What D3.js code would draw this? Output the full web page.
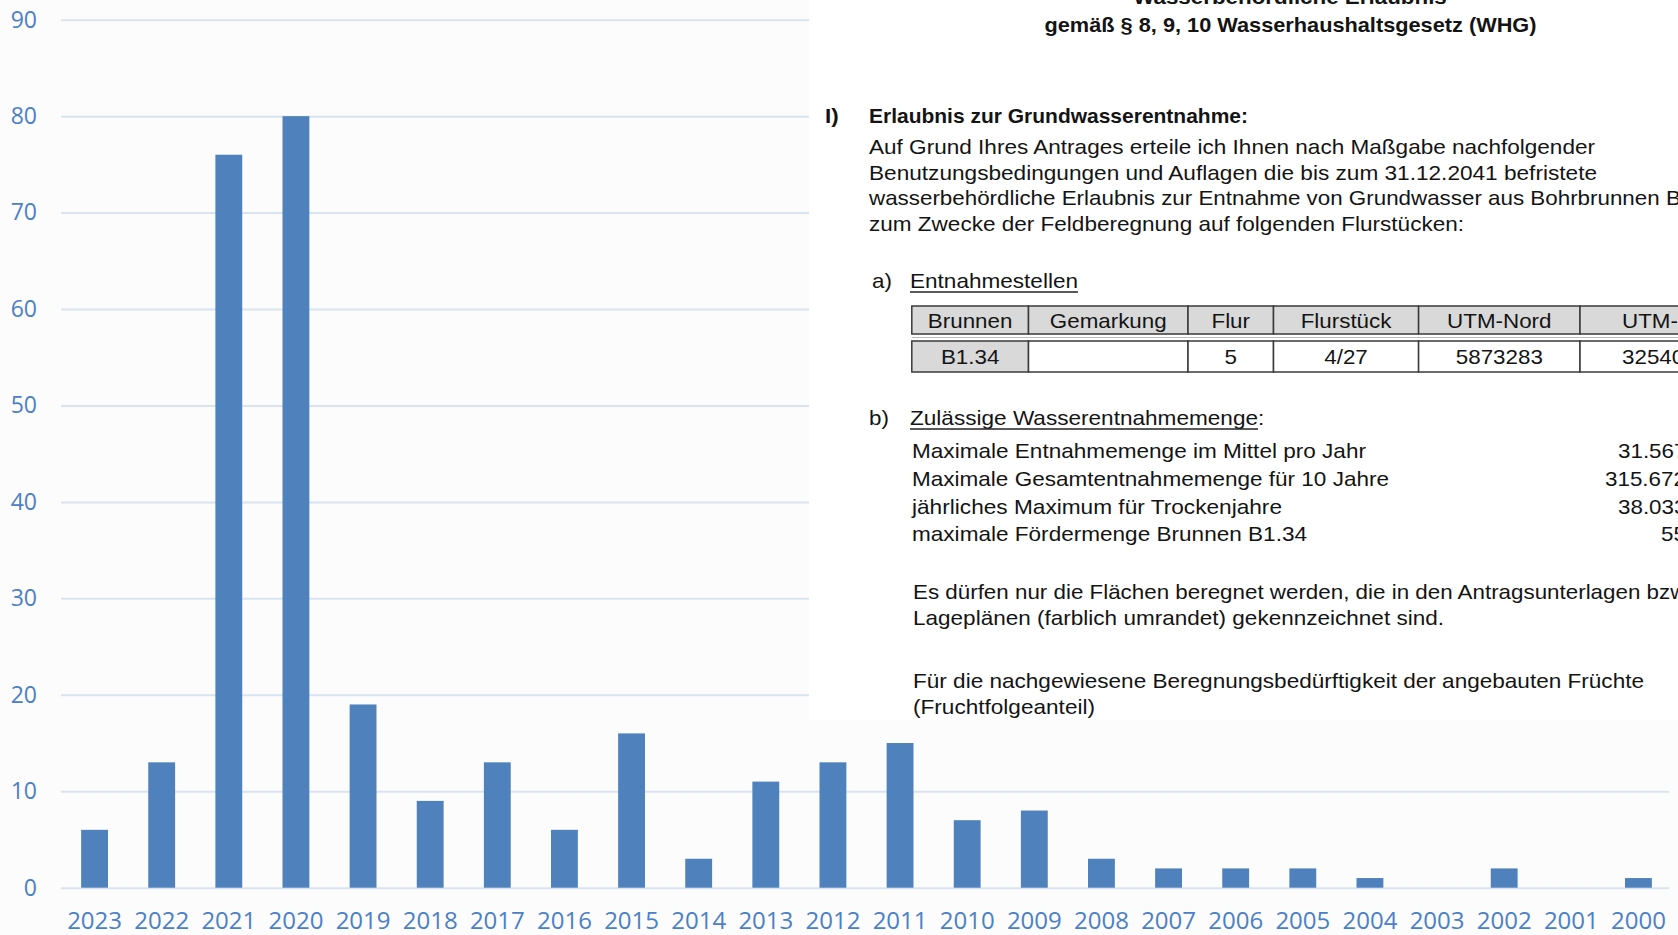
<!DOCTYPE html>
<html><head><meta charset="utf-8">
<script src="https://cdn.jsdelivr.net/npm/d3@7"></script>
<style>html,body{margin:0;padding:0;background:#fcfcfc;overflow:hidden}</style>
</head><body><svg id="c" width="1678" height="935"></svg>
<script>
// ---- chart data ----
const years = ["2023","2022","2021","2020","2019","2018","2017","2016","2015","2014","2013","2012",
               "2011","2010","2009","2008","2007","2006","2005","2004","2003","2002","2001","2000"];
const values = [6,13,76,80,19,9,13,6,16,3,11,13,15,7,8,3,2,2,2,1,0,2,0,1];
const yTicks = [0,10,20,30,40,50,60,70,80,90];

// ---- overlaid document text ----
const docTitle = ["Wasserbehördliche Erlaubnis", "gemäß § 8, 9, 10 Wasserhaushaltsgesetz (WHG)"];
const docHeading = ["I)", "Erlaubnis zur Grundwasserentnahme:"];
const docPara1 = ["Auf Grund Ihres Antrages erteile ich Ihnen nach Maßgabe nachfolgender",
  "Benutzungsbedingungen und Auflagen die bis zum 31.12.2041 befristete",
  "wasserbehördliche Erlaubnis zur Entnahme von Grundwasser aus Bohrbrunnen B1.34",
  "zum Zwecke der Feldberegnung auf folgenden Flurstücken:"];
const docSubA = ["a)", "Entnahmestellen"];
const tableHead = ["Brunnen","Gemarkung","Flur","Flurstück","UTM-Nord","UTM-Ost"];
const tableRow = ["B1.34","","5","4/27","5873283","32540"];
const docSubB = ["b)", "Zulässige Wasserentnahmemenge", ":"];
const amountLabels = ["Maximale Entnahmemenge im Mittel pro Jahr","Maximale Gesamtentnahmemenge für 10 Jahre",
  "jährliches Maximum für Trockenjahre","maximale Fördermenge Brunnen B1.34"];
const amountValues = ["31.567","315.672","38.033","55"];
const docPara2 = ["Es dürfen nur die Flächen beregnet werden, die in den Antragsunterlagen bzw.",
  "Lageplänen (farblich umrandet) gekennzeichnet sind."];
const docPara3 = ["Für die nachgewiesene Beregnungsbedürftigkeit der angebauten Früchte","(Fruchtfolgeanteil)"];

const svg = d3.select("#c");
svg.append("rect").attr("width",1678).attr("height",935).attr("fill","#fcfcfc");

const x0 = 61, x1 = 1669;
const x = d3.scaleBand().domain(years).range([x0, 1672]).paddingInner(0.6).paddingOuter(0.3);
const y = d3.scaleLinear().domain([0, 90]).range([887.7, 19.7]);

const labelColor = "#4a80c8";
// y axis + gridlines
const ya = svg.append("g").attr("transform", `translate(${x0},0)`)
  .call(d3.axisLeft(y).tickValues(yTicks).tickSize(-(x1 - x0)).tickPadding(24));
ya.select(".domain").remove();
ya.selectAll(".tick line").attr("stroke", "#dae4f1").attr("stroke-width", 2);
ya.selectAll(".tick text").attr("fill", labelColor).attr("font-family", "'Open Sans', 'Noto Sans', sans-serif")
  .attr("font-size", 23);

// bars
svg.append("g").selectAll("rect").data(years).join("rect")
  .attr("x", d => x(d)).attr("width", x.bandwidth())
  .attr("y", (d, i) => y(values[i])).attr("height", (d, i) => y(0) - y(values[i]))
  .attr("fill", "#4f81bd");

// x axis
const xa = svg.append("g").attr("transform", `translate(0,${y(0)})`)
  .call(d3.axisBottom(x).tickSize(0));
xa.select(".domain").remove();
xa.selectAll(".tick text").attr("fill", labelColor).attr("font-family", "'Open Sans', 'Noto Sans', sans-serif")
  .attr("font-size", 24).attr("dy", null).attr("y", 41.5);

// ---- document overlay ----
const doc = svg.append("g");
doc.append("rect").attr("x", 809).attr("y", 0).attr("width", 869).attr("height", 720).attr("fill", "#ffffff");
const F = "'Liberation Sans', Arial, sans-serif";
const K = 1.065; // horizontal stretch of the scanned document text
function txt(s, xx, yy, opt = {}) {
  const t = doc.append("text").attr("x", xx).attr("y", yy).text(s)
    .attr("font-family", F).attr("font-size", opt.size || 21)
    .attr("font-weight", opt.bold ? "bold" : "normal").attr("fill", "#141414")
    .attr("text-anchor", opt.anchor || "start");
  const w = t.node().getComputedTextLength();
  const tw = opt.w || w * K;
  t.attr("textLength", tw).attr("lengthAdjust", "spacingAndGlyphs");
  return tw;
}
txt(docTitle[0], 1290, 4, {bold: true, anchor: "middle"});
txt(docTitle[1], 1290.5, 32, {bold: true, anchor: "middle", w: 492});
txt(docHeading[0], 825, 123, {bold: true});
txt(docHeading[1], 869, 123, {bold: true, w: 379});
const p1w = [726, 728, null, 595];
docPara1.forEach((s, i) => txt(s, 869, 154 + i * 25.7, p1w[i] ? {w: p1w[i]} : {}));
txt(docSubA[0], 872, 288);
const wa = txt(docSubA[1], 910, 288, {w: 168});
doc.append("line").attr("x1", 910).attr("x2", 910 + wa).attr("y1", 292).attr("y2", 292).attr("stroke", "#222").attr("stroke-width", 1.3);

// table
const cols = [911.8, 1028.5, 1188, 1273.5, 1418.6, 1580, 1741];
const tb = doc.append("g");
tableHead.forEach((h, i) => {
  tb.append("rect").attr("x", cols[i]).attr("y", 306).attr("width", cols[i+1] - cols[i]).attr("height", 28)
    .attr("fill", "#d9d9d9").attr("stroke", "#3a3a3a").attr("stroke-width", 1.5);
  tb.append("rect").attr("x", cols[i]).attr("y", 341).attr("width", cols[i+1] - cols[i]).attr("height", 31)
    .attr("fill", i === 0 ? "#d9d9d9" : "#ffffff").attr("stroke", "#3a3a3a").attr("stroke-width", 1.5);
});
doc.append("line").attr("x1", cols[0]).attr("x2", 1678).attr("y1", 337.5).attr("y2", 337.5).attr("stroke", "#bbbbbb").attr("stroke-width", 1);
tableHead.forEach((h, i) => {
  if (i === 5) txt(h, 1622, 328);
  else txt(h, (cols[i] + cols[i+1]) / 2, 328, {anchor: "middle"});
});
tableRow.forEach((h, i) => {
  if (!h) return;
  if (i === 5) txt(h, 1622, 363.5);
  else txt(h, (cols[i] + cols[i+1]) / 2, 363.5, {anchor: "middle"});
});

txt(docSubB[0], 869, 425);
const wb = txt(docSubB[1], 910, 425, {w: 348});
txt(docSubB[2], 910 + wb, 425);
doc.append("line").attr("x1", 910).attr("x2", 910 + wb).attr("y1", 429).attr("y2", 429).attr("stroke", "#222").attr("stroke-width", 1.3);
const aw = [454, 477, 370, 395];
const ax = [1618, 1605, 1618, 1661];
amountLabels.forEach((s, i) => {
  txt(s, 912, 458 + i * 27.8, {w: aw[i]});
  txt(amountValues[i], ax[i], 458 + i * 27.8);
});
txt(docPara2[0], 913, 599);
txt(docPara2[1], 913, 625, {w: 531});
txt(docPara3[0], 913, 688, {w: 731});
txt(docPara3[1], 913, 714, {w: 182});
</script></body></html>
